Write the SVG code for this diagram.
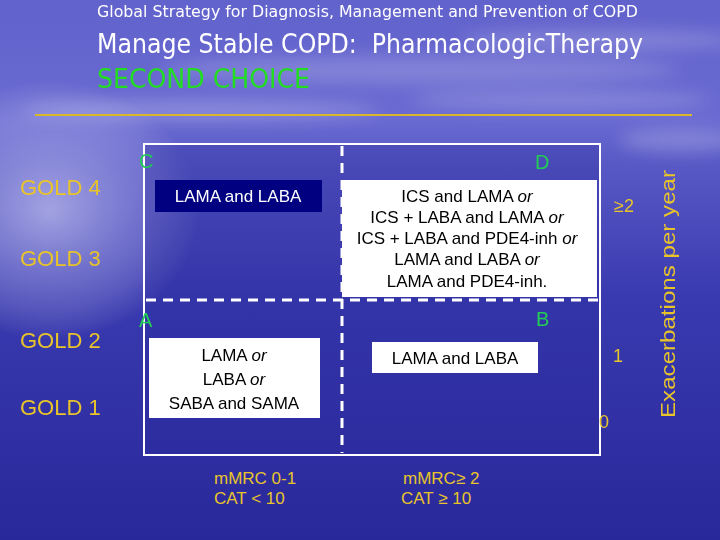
<svg xmlns="http://www.w3.org/2000/svg" width="720" height="540" viewBox="0 0 720 540">
<style>
.t{font-family:"DejaVu Sans","Liberation Sans",sans-serif}
.gold{font-family:"Liberation Sans",sans-serif;font-size:22px;fill:#e8c42a}
.lab{font-family:"Liberation Sans",sans-serif;font-size:20px;fill:#22cc55}
.ax{font-family:"Liberation Sans",sans-serif;fill:#e8c42a}
.bx{font-family:"Liberation Sans",sans-serif;font-size:17px;fill:#000;text-anchor:middle}
.bt{font-family:"Liberation Sans",sans-serif;font-size:17px;fill:#e8c42a}
.dash{stroke:#fff;stroke-width:3;stroke-dasharray:10 7;fill:none}
</style>
<defs>
<linearGradient id="bg" x1="0" y1="0" x2="0" y2="1">
<stop offset="0" stop-color="#6262cc"/>
<stop offset="0.22" stop-color="#6a6ad2"/>
<stop offset="0.32" stop-color="#5656c4"/>
<stop offset="0.55" stop-color="#3a3ab0"/>
<stop offset="1" stop-color="#28289a"/>
</linearGradient>
<radialGradient id="sun" cx="0.5" cy="0.5" r="0.5">
<stop offset="0" stop-color="#e8e8ff" stop-opacity="0.55"/>
<stop offset="0.6" stop-color="#c8c8f4" stop-opacity="0.3"/>
<stop offset="1" stop-color="#ffffff" stop-opacity="0"/>
</radialGradient>
<filter id="blur" x="-20%" y="-50%" width="140%" height="200%"><feGaussianBlur stdDeviation="8"/></filter>
</defs>
<rect width="720" height="540" fill="url(#bg)"/>
<g filter="url(#blur)" fill="#ffffff">
<ellipse cx="420" cy="70" rx="260" ry="14" opacity="0.18"/>
<ellipse cx="600" cy="40" rx="140" ry="10" opacity="0.2"/>
<ellipse cx="200" cy="110" rx="180" ry="10" opacity="0.22"/>
<ellipse cx="560" cy="100" rx="150" ry="9" opacity="0.2"/>
<ellipse cx="680" cy="140" rx="60" ry="12" opacity="0.2"/>
</g>
<ellipse cx="50" cy="210" rx="150" ry="130" fill="url(#sun)"/>
<rect x="144" y="144" width="456" height="311" fill="#2a2a9e" opacity="0.35"/>

<g id="title">
<text class="t" x="97" y="17" font-size="16" fill="#ffffff" textLength="541" lengthAdjust="spacingAndGlyphs">Global Strategy for Diagnosis, Management and Prevention of COPD</text>
<text class="t" x="97" y="53" font-size="27" fill="#ffffff" textLength="546" lengthAdjust="spacingAndGlyphs" xml:space="preserve">Manage Stable COPD:  PharmacologicTherapy</text>
<text class="t" x="97" y="88" font-size="26" fill="#22dd22" textLength="213" lengthAdjust="spacingAndGlyphs">SECOND CHOICE</text>
</g>
<line x1="35" y1="115" x2="692" y2="115" stroke="#d8b828" stroke-width="2"/>

<g id="connectors">
<rect x="144" y="144" width="456" height="311" fill="none" stroke="#ffffff" stroke-width="2"/>
<line class="dash" x1="342" y1="146" x2="342" y2="453"/>
<line class="dash" x1="146" y1="300" x2="598" y2="300"/>
</g>

<g id="gold">
<text class="gold" x="20" y="195">GOLD 4</text>
<text class="gold" x="20" y="266">GOLD 3</text>
<text class="gold" x="20" y="348">GOLD 2</text>
<text class="gold" x="20" y="415">GOLD 1</text>
</g>

<g id="C">
<text class="lab" x="139" y="168">C</text>
<rect x="155" y="180" width="167" height="32" fill="#000080"/>
<text class="bx" x="238" y="202" style="fill:#fff">LAMA and LABA</text>
</g>
<g id="D">
<text class="lab" x="535" y="169">D</text>
<rect x="342" y="180" width="255" height="117" fill="#ffffff"/>
<text class="bx" x="467" y="202">ICS and LAMA <tspan font-style="italic">or</tspan></text>
<text class="bx" x="467" y="223">ICS + LABA and LAMA <tspan font-style="italic">or</tspan></text>
<text class="bx" x="467" y="244">ICS + LABA and PDE4-inh <tspan font-style="italic">or</tspan></text>
<text class="bx" x="467" y="265">LAMA and LABA <tspan font-style="italic">or</tspan></text>
<text class="bx" x="467" y="287">LAMA and PDE4-inh.</text>
</g>
<g id="A">
<text class="lab" x="139" y="327">A</text>
<rect x="149" y="338" width="171" height="80" fill="#ffffff"/>
<text class="bx" x="234" y="361">LAMA <tspan font-style="italic">or</tspan></text>
<text class="bx" x="234" y="385">LABA <tspan font-style="italic">or</tspan></text>
<text class="bx" x="234" y="409">SABA and SAMA</text>
</g>
<g id="B">
<text class="lab" x="536" y="326">B</text>
<rect x="372" y="342" width="166" height="31" fill="#ffffff"/>
<text class="bx" x="455" y="364">LAMA and LABA</text>
</g>

<g id="axis">
<text class="ax" x="614" y="212" font-size="18">≥2</text>
<text class="ax" x="613" y="362" font-size="18">1</text>
<text class="ax" x="599" y="428" font-size="18">0</text>
<text class="ax" transform="translate(675,294) rotate(-90)" text-anchor="middle" font-size="20" textLength="248" lengthAdjust="spacingAndGlyphs">Exacerbations per year</text>
</g>

<g id="bottom">
<text class="bt" x="214" y="484">mMRC 0-1</text>
<text class="bt" x="214" y="504">CAT &lt; 10</text>
<text class="bt" x="403" y="484">mMRC≥ 2</text>
<text class="bt" x="401" y="504">CAT ≥ 10</text>
</g>
</svg>
